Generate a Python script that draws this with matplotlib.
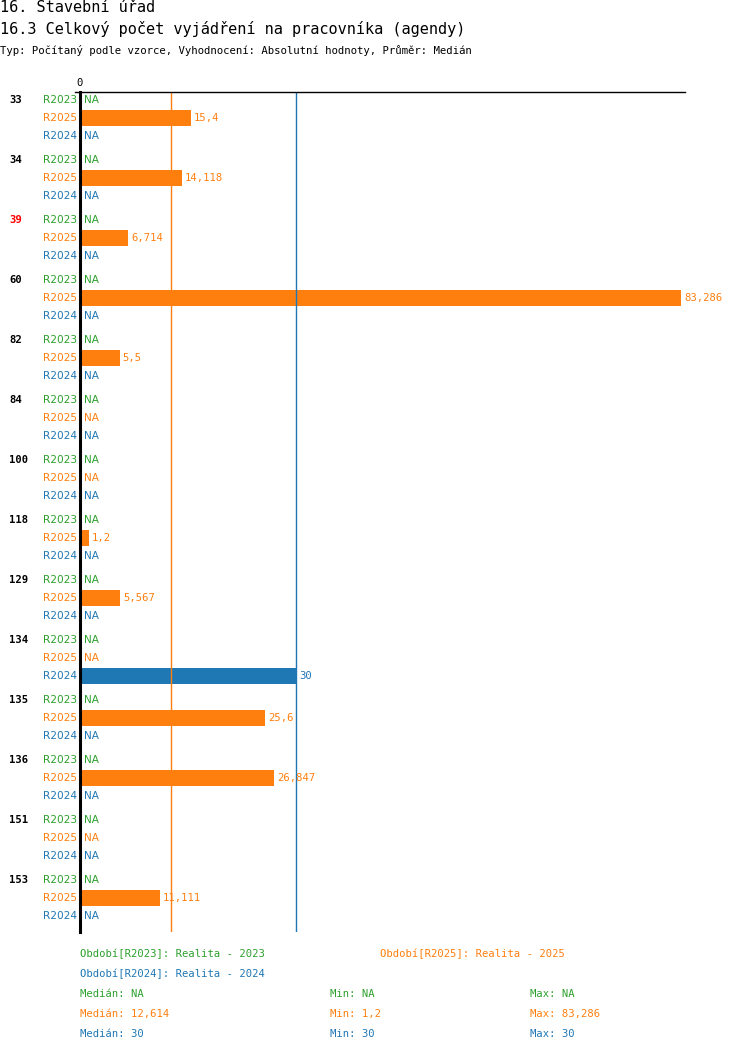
import matplotlib
matplotlib.use('agg')
import matplotlib.pyplot as plt
from matplotlib.transforms import ScaledTranslation

groups = ["33", "34", "39", "60", "82", "84", "100", "118", "129", "134", "135", "136", "151", "153"]
r2023 = [None] * 14
r2025 = [15.4, 14.118, 6.714, 83.286, 5.5, None, None, 1.2, 5.567, None, 25.6, 26.847, None, 11.111]
r2024 = [None, None, None, None, None, None, None, None, None, 30, None, None, None, None]
labels_2025 = {0: "15,4", 1: "14,118", 2: "6,714", 3: "83,286", 4: "5,5", 7: "1,2", 8: "5,567",
               10: "25,6", 11: "26,847", 13: "11,111"}
labels_2024 = {9: "30"}
median_2025 = 12.614
median_2024 = 30

GREEN, ORANGE, BLUE = "#2ca02c", "#ff7f0e", "#1f77b4"
mono = "DejaVu Sans Mono"
fs = 7.6

W, H = 750, 1052
fig = plt.figure(figsize=(W / 100, H / 100), dpi=100)
x0, x1, ytop, ybot = 80, 681, 92, 932
ax = fig.add_axes([x0 / W, 1 - ybot / H, (x1 - x0) / W, (ybot - ytop) / H])
ax.set_xlim(0, 83.286)
ax.set_ylim(ybot, ytop)
ax.axis('off')

def off(dx):
    return ax.transData + ScaledTranslation(dx / 100, 0, fig.dpi_scale_trans)

series = [("R2023", r2023, GREEN, {}), ("R2025", r2025, ORANGE, labels_2025), ("R2024", r2024, BLUE, labels_2024)]
for i, g in enumerate(groups):
    base = 100 + 60 * i
    ax.text(0, base, g, transform=off(-71), fontsize=fs, family=mono, weight='bold',
            color='red' if g == "39" else 'black', va='center', ha='left')
    for k, (name, vals, col, labs) in enumerate(series):
        y = base + 18 * k
        ax.text(0, y, name, transform=off(-3), fontsize=fs, family="DejaVu Sans", color=col,
                va='center', ha='right')
        v = vals[i]
        if v is None:
            ax.text(0, y, "NA", transform=off(4), fontsize=fs, family="DejaVu Sans", color=col, va='center')
        else:
            ax.barh(y, v, height=16, color=col, left=0)
            ax.text(v, y, labs[i], transform=off(3), fontsize=fs, family=mono, color=col, va='center')

ax.axvline(median_2025, color=ORANGE, lw=1)
ax.axvline(median_2024, color=BLUE, lw=1)
ax.plot([0, 0], [ytop, ybot], color='black', lw=2.2, clip_on=False)
ax.plot([-0.7, 83.9], [ytop, ytop], color='black', lw=1, clip_on=False)
ax.text(0, ytop - 4, "0", fontsize=fs, family=mono, ha='center', va='bottom')

fig.text(0 / W, 1 - 8 / H, "16. Stavební úřad", fontsize=11, family=mono, va='center')
fig.text(0 / W, 1 - 29 / H, "16.3 Celkový počet vyjádření na pracovníka (agendy)", fontsize=11, family=mono, va='center')
fig.text(0 / W, 1 - 50 / H, "Typ: Počítaný podle vzorce, Vyhodnocení: Absolutní hodnoty, Průměr: Medián",
         fontsize=7.7, family=mono, va='center')

def foot(x, y, s, c):
    fig.text(x / W, 1 - y / H, s, fontsize=fs, family=mono, color=c, va='center')

foot(80, 954, "Období[R2023]: Realita - 2023", GREEN)
foot(380, 954, "Období[R2025]: Realita - 2025", ORANGE)
foot(80, 974, "Období[R2024]: Realita - 2024", BLUE)
for y, c, med, mn, mx in [(994, GREEN, "NA", "NA", "NA"), (1014, ORANGE, "12,614", "1,2", "83,286"),
                          (1034, BLUE, "30", "30", "30")]:
    foot(80, y, "Medián: " + med, c)
    foot(330, y, "Min: " + mn, c)
    foot(530, y, "Max: " + mx, c)

fig.savefig("out.png", dpi=100)
